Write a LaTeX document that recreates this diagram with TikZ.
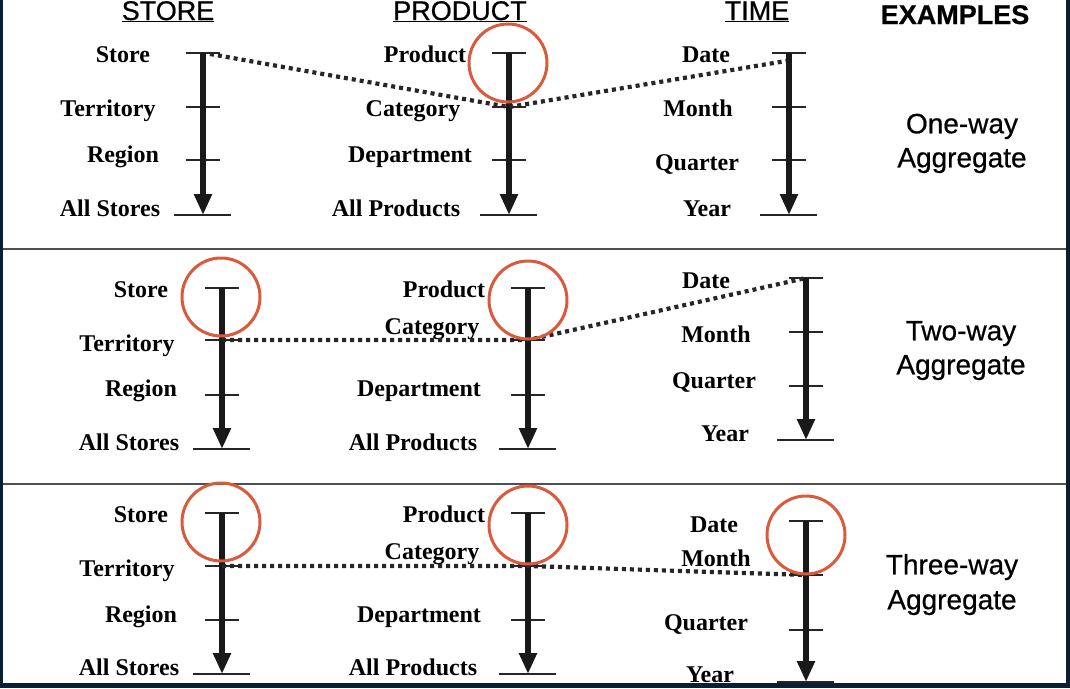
\documentclass[tikz,border=0pt]{standalone}
\usepackage{fontspec}
\setmainfont{Liberation Serif}
\newfontfamily\headsans[FakeBold=0.6]{Liberation Sans}
\usetikzlibrary{arrows.meta}
\definecolor{framenavy}{HTML}{0B1E33}
\definecolor{ringred}{HTML}{DA5A3C}
\definecolor{rulegray}{HTML}{505050}

\tikzset{
  lvl/.style={font=\fontsize{24}{28}\selectfont\bfseries, anchor=mid, inner sep=0pt, yshift=-4pt},
  colhead/.style={font=\headsans\fontsize{27}{30}\selectfont, anchor=base, inner sep=0pt},
  note/.style={font=\headsans\fontsize{28}{32}\selectfont, anchor=mid, inner sep=0pt, yshift=-5pt},
  tickmark/.style={line width=2pt, black!85},
  levelarrow/.style={line width=5.6pt, black!90, -{Triangle[width=17pt,length=21pt]}},
  rollup/.style={line width=4.2pt, black!85, dash pattern=on 4pt off 4pt},
  ring/.style={circle, draw=ringred, line width=3pt, minimum size=78pt, inner sep=0pt},
  divider/.style={line width=2pt, rulegray},
}

% one hierarchy axis: name, x, four tick levels (top to bottom)
\newcommand{\levelaxis}[6]{%
  \coordinate (#1-1) at (#2,#3);
  \coordinate (#1-2) at (#2,#4);
  \coordinate (#1-3) at (#2,#5);
  \coordinate (#1-4) at (#2,#6);
  \draw[tickmark] (#1-1) ++(-17,0) -- ++(34,0);
  \draw[tickmark] (#1-2) ++(-17,0) -- ++(34,0);
  \draw[tickmark] (#1-3) ++(-17,0) -- ++(34,0);
  \draw[tickmark] (#1-4) ++(-29,0) -- ++(57,0);
  \draw[levelarrow] (#1-1) -- (#1-4);
}

\begin{document}
\begin{tikzpicture}[x=1pt, y=-1pt]
\useasboundingbox (0,0) rectangle (1070,688);
\fill[white] (0,0) rectangle (1070,688);

% column headings
\node[colhead] (hstore) at (168,20) {\underline{STORE}};
\node[colhead] (hprod)  at (460,20) {\underline{PRODUCT}};
\node[colhead] (htime)  at (757,20) {\underline{TIME}};
\node[colhead, font=\headsans\bfseries\fontsize{27}{30}\selectfont] (hex) at (955,24) {EXAMPLES};

% panel dividers
\coordinate (d1a) at (2,249);   \coordinate (d1b) at (1066,249);
\coordinate (d2a) at (2,484);   \coordinate (d2b) at (1066,484);
\draw[divider] (d1a) -- (d1b);
\draw[divider] (d2a) -- (d2b);

% ---------- one-way aggregate ----------
\levelaxis{s1}{203}{53}{107}{160}{215}
\levelaxis{p1}{509}{53}{107}{160}{215}
\levelaxis{t1}{789}{53}{107}{160}{215}
\node[lvl] (s1store) at (123,56)  {Store};
\node[lvl] (s1terr)  at (108,110) {Territory};
\node[lvl] (s1reg)   at (123,156) {Region};
\node[lvl] (s1all)   at (110,210) {All Stores};
\node[lvl] (p1prod)  at (425,56)  {Product};
\node[lvl] (p1cat)   at (413,110) {Category};
\node[lvl] (p1dept)  at (410,156) {Department};
\node[lvl] (p1all)   at (396,210) {All Products};
\node[lvl] (t1date)  at (706,56)  {Date};
\node[lvl] (t1mon)   at (698,110) {Month};
\node[lvl] (t1qtr)   at (697,164) {Quarter};
\node[lvl] (t1yr)    at (707,210) {Year};
\coordinate (r1end) at (786,61);
\draw[rollup] (s1-1) ++(7,1) -- (p1-2) -- (r1end);
\node[ring] (c1p) at (508,63) {};
\node[note] (n1a) at (962,126) {One-way};
\node[note] (n1b) at (962,160) {Aggregate};

% ---------- two-way aggregate ----------
\levelaxis{s2}{222}{288}{340}{395}{449}
\levelaxis{p2}{528}{288}{340}{395}{449}
\levelaxis{t2}{806}{278}{332}{386}{440}
\node[lvl] (s2store) at (141,291) {Store};
\node[lvl] (s2terr)  at (127,345) {Territory};
\node[lvl] (s2reg)   at (141,390) {Region};
\node[lvl] (s2all)   at (129,444) {All Stores};
\node[lvl] (p2prod)  at (444,291) {Product};
\node[lvl] (p2cat)   at (432,328) {Category};
\node[lvl] (p2dept)  at (419,390) {Department};
\node[lvl] (p2all)   at (413,444) {All Products};
\node[lvl] (t2date)  at (706,282) {Date};
\node[lvl] (t2mon)   at (716,336) {Month};
\node[lvl] (t2qtr)   at (714,382) {Quarter};
\node[lvl] (t2yr)    at (725,435) {Year};
\draw[rollup] (s2-2) -- (p2-2) -- (t2-1);
\node[ring] (c2s) at (221,297) {};
\node[ring] (c2p) at (528,300) {};
\node[note] (n2a) at (961,333) {Two-way};
\node[note] (n2b) at (961,367) {Aggregate};

% ---------- three-way aggregate ----------
\levelaxis{s3}{222}{513}{566}{620}{674}
\levelaxis{p3}{528}{513}{566}{620}{674}
\levelaxis{t3}{806}{521}{575}{630}{682}
\node[lvl] (s3store) at (141,516) {Store};
\node[lvl] (s3terr)  at (127,570) {Territory};
\node[lvl] (s3reg)   at (141,616) {Region};
\node[lvl] (s3all)   at (129,669) {All Stores};
\node[lvl] (p3prod)  at (444,516) {Product};
\node[lvl] (p3cat)   at (432,553) {Category};
\node[lvl] (p3dept)  at (419,616) {Department};
\node[lvl] (p3all)   at (413,669) {All Products};
\node[lvl] (t3date)  at (714,526) {Date};
\node[lvl] (t3mon)   at (716,560) {Month};
\node[lvl] (t3qtr)   at (706,624) {Quarter};
\node[lvl] (t3yr)    at (710,676) {Year};
\draw[rollup] (s3-2) -- (p3-2) -- (t3-2);
\node[ring] (c3s) at (221,522) {};
\node[ring] (c3p) at (528,525) {};
\node[ring] (c3t) at (806,535) {};
\node[note] (n3a) at (952,567) {Three-way};
\node[note] (n3b) at (952,602) {Aggregate};

% outer frame
\fill[framenavy] (0,0) rectangle (2.5,688);
\fill[framenavy] (1066,0) rectangle (1070,688);
\fill[framenavy] (0,683) rectangle (1070,688);
\end{tikzpicture}
\end{document}
